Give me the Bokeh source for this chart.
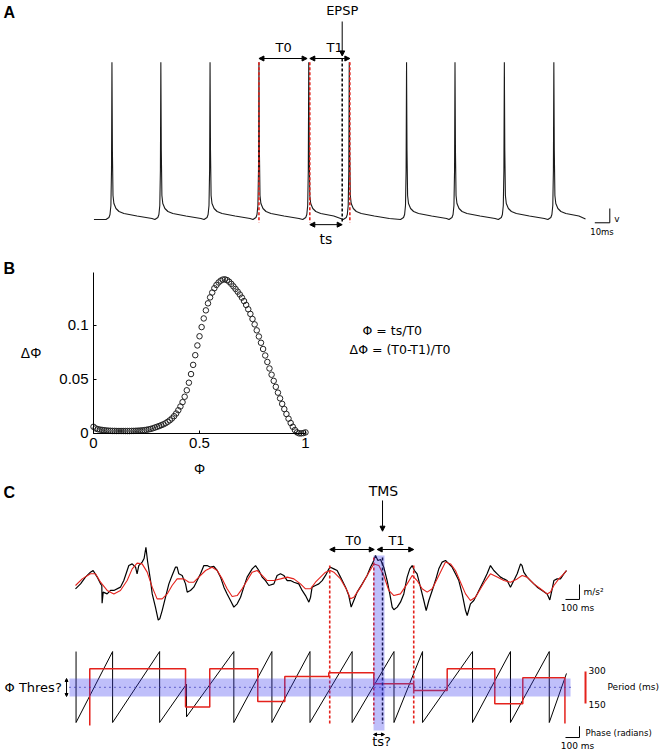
import numpy as np
from bokeh.plotting import figure
from bokeh.models import Range1d, Label, Arrow, NormalHead, FixedTicker, LinearAxis
from bokeh.embed import file_html
from bokeh.resources import INLINE

# ---------------- Panel A data (time in ms, voltage in mV) ----------------
spike_times_ms = [12.3, 44.9, 77.7, 110.3, 143.5, 170.5, 208.7, 241.0, 273.9, 306.9]
spike_tmpl_dt = [-4.0, -2.0, -1.3, -0.7, -0.3, 0.0, 0.3, 0.7, 1.3, 2.7, 4.7, 8.0, 16.7, 26.7]
spike_tmpl_v = [-70.0, -68.6, -66.5, -60.2, -35.7, 40.0, -21.7, -53.2, -58.8, -62.3, -64.4, -65.8, -67.6, -69.3]
trace_span_ms = [0.3, 328.0]
rest_mv = [-70.0, -69.6]
a_marker_ms = [110.3, 144.2, 170.9]     # red dashed spike markers
epsp_ms = 165.8

# ---------------- Panel B data ----------------
phi = np.round(np.arange(0, 101) / 100.0, 2)
dphi = [0.0062, 0.0047, 0.0040, 0.0036, 0.0033, 0.0030, 0.0028, 0.0026, 0.0025, 0.0024,
        0.0024, 0.0023, 0.0023, 0.0023, 0.0023, 0.0023, 0.0023, 0.0023, 0.0024, 0.0024,
        0.0025, 0.0026, 0.0027, 0.0029, 0.0031, 0.0034, 0.0038, 0.0042, 0.0048, 0.0055,
        0.0062, 0.0069, 0.0077, 0.0085, 0.0095, 0.0108, 0.0122, 0.0139, 0.0160, 0.0185,
        0.0215, 0.0250, 0.0290, 0.0340, 0.0400, 0.0470, 0.0550, 0.0635, 0.0725, 0.0815,
        0.0900, 0.0985, 0.1065, 0.1140, 0.1205, 0.1260, 0.1305, 0.1345, 0.1375, 0.1398,
        0.1415, 0.1425, 0.1427, 0.1420, 0.1405, 0.1385, 0.1362, 0.1338, 0.1313, 0.1287,
        0.1258, 0.1226, 0.1190, 0.1150, 0.1107, 0.1060, 0.1010, 0.0955, 0.0898, 0.0840,
        0.0782, 0.0722, 0.0662, 0.0602, 0.0544, 0.0487, 0.0432, 0.0378, 0.0325, 0.0274,
        0.0226, 0.0180, 0.0137, 0.0097, 0.0062, 0.0032, 0.0010, 0.0001, 0.0001, 0.0004,
        0.0010]

# ---------------- Panel C data (time in ms) ----------------
acc_t = [0, 36, 71, 107, 126, 155, 179, 188, 190, 198, 226, 250, 274, 321, 345, 369, 381, 405,
         429, 440, 452, 476, 490, 503, 515, 536, 548, 571, 591, 602, 619, 643, 667, 690, 714, 726,
         738, 762, 786, 798, 821, 845, 869, 893, 917, 940, 964, 988, 1012, 1036, 1060, 1083,
         1107, 1131, 1155, 1179, 1202, 1226, 1262, 1286, 1310, 1333, 1357, 1381, 1417, 1440,
         1464, 1488, 1512, 1536, 1560, 1595, 1619, 1643, 1667, 1679, 1690, 1714, 1738, 1762,
         1786, 1810, 1821, 1845, 1869, 1893, 1929, 1952, 1969, 1988, 2012, 2048, 2083, 2107,
         2126, 2143, 2160, 2179, 2202, 2226, 2245, 2262, 2274, 2298, 2321, 2345, 2369, 2388,
         2405, 2421, 2440, 2464, 2488, 2505, 2524, 2548, 2571, 2595, 2619, 2643, 2667, 2690,
         2714, 2738, 2762, 2786, 2798, 2821, 2845, 2869, 2893, 2917, 2940, 2964, 2988, 3012,
         3036, 3060, 3083, 3107, 3131, 3155, 3179, 3190, 3202, 3226, 3250, 3274, 3298, 3333,
         3369, 3388, 3405, 3417, 3440, 3464, 3488, 3507]
acc_raw = [-0.22, 0.11, 0.56, 0.89, 1.0, 0.56, 0.11, 0.0, -1.18, -0.44, -0.56, -0.33, -0.33, -0.11,
           0.33, 1.0, 1.33, 1.44, 1.22, 0.78, 1.33, 1.56, 1.8, 2.55, 1.6, 0.33, -0.56, -1.44,
           -2.3, -2.22, -1.67, -0.78, 0.11, 0.67, 1.22, 1.22, 0.78, 0.67, 0.11, -0.44, -0.33,
           -0.11, 0.33, 0.78, 1.33, 1.33, 1.22, 1.27, 1.0, 0.56, -0.11, -0.56, -1.0, -1.44,
           -1.22, -0.78, -0.11, 0.56, 1.11, 1.33, 1.0, 0.56, 0.33, 0.0, 0.11, 0.67, 0.78, 0.67,
           0.33, 0.33, 0.22, 0.11, -0.33, -0.67, -1.11, -0.78, -0.11, 0.0, 0.11, 0.33, 0.67,
           1.11, 1.22, 1.11, 1.0, 0.56, -0.11, -0.67, -1.44, -1.0, -0.44, 0.11, 0.67, 1.22, 1.56,
           2.0, 1.67, 1.73, 1.22, 0.33, -0.56, -1.44, -1.62, -1.44, -1.11, -0.56, 0.56, 1.11,
           1.33, 1.0, 0.78, -0.11, -1.0, -1.67, -1.0, -0.33, 0.33, 1.11, 1.56, 1.67, 1.44, 1.22,
           0.78, 0.33, -0.56, -1.67, -2.0, -1.22, -1.0, -0.56, -0.11, 0.33, 0.78, 1.33, 1.0,
           0.78, 0.56, 0.44, 0.33, -0.11, 0.33, 0.78, 1.44, 1.33, 0.89, 0.56, 0.33, 0.11, -0.11,
           -0.33, -0.56, -0.96, -0.22, 0.33, 0.44, 0.44, 0.78, 1.0]
smooth_t = [0, 48, 107, 143, 179, 226, 274, 321, 369, 405, 440, 476, 512, 548, 583, 619, 655, 690,
            726, 774, 810, 845, 881, 929, 976, 1012, 1048, 1083, 1119, 1155, 1190, 1226, 1262,
            1298, 1333, 1369, 1417, 1464, 1512, 1560, 1607, 1643, 1679, 1714, 1750, 1786, 1820,
            1845, 1893, 1940, 1964, 1988, 2036, 2083, 2131, 2167, 2202, 2238, 2274, 2321, 2369,
            2405, 2440, 2476, 2512, 2548, 2583, 2619, 2643, 2679, 2714, 2750, 2786, 2821, 2857,
            2893, 2929, 2964, 3012, 3060, 3107, 3155, 3190, 3226, 3274, 3321, 3369, 3393, 3417,
            3452, 3488, 3507]
smooth_acc = [0.0, 0.44, 0.78, 0.78, 0.22, -0.33, -0.56, -0.33, 0.33, 1.11, 1.49, 1.44, 0.89,
              -0.11, -0.89, -0.89, -0.56, 0.0, 0.44, 0.44, 0.22, 0.22, 0.56, 1.0, 1.22, 1.0, 0.44,
              -0.22, -0.73, -0.67, -0.22, 0.33, 0.89, 1.0, 0.67, 0.33, 0.33, 0.44, 0.56, 0.44,
              0.11, -0.22, -0.22, 0.22, 0.56, 0.89, 1.0, 0.89, 0.44, -0.33, -0.89, -0.78, -0.11,
              0.67, 1.44, 1.33, 0.67, -0.33, -0.67, -0.56, 0.11, 0.67, 0.33, -0.22, -0.44, -0.22,
              0.44, 1.11, 1.56, 1.44, 1.0, 0.22, -0.56, -1.0, -0.78, -0.22, 0.33, 0.78, 0.56,
              0.33, 0.22, 0.44, 0.67, 0.56, 0.11, -0.22, -0.56, -0.44, 0.0, 0.44, 0.78, 1.0]
phase_reset_t = [4, 265, 601, 793, 1131, 1403, 1675, 1976, 2275, 2479, 2836, 3107, 3384]
phase_before = [6.28, 6.28, 6.28, 3.4, 6.28, 6.28, 6.28, 6.28, 6.28, 6.28, 6.28, 6.28, 6.28]
phase_after = [0.0, 0.0, 0.0, 0.5, 0.0, 0.0, 0.0, 0.0, 0.0, 0.0, 0.0, 0.0, 0.0]
phase_end = [3507, 4.34]
period_edges_t = [102, 786, 959, 1302, 1495, 1809, 2131, 2416, 2655, 2995, 3195, 3496]
period_ms = [313, 133, 313, 159, 277, 294, 242, 211, 313, 149, 271]
period_ends = [47, 56]
c_marker_t = [1816, 2131, 2416]
tms_t = 2193
tms_window = [2129, 2207]
phase_thresh = 3.10
phase_band = [2.30, 3.894]
band_span_t = [-43, 3536]

RED = "#e4221c"
FONT = "DejaVu Sans"
ARIAL = "Liberation Sans"

# One canvas; each panel has its own scales (ranges) placed on it.
p = figure(width=660, height=752, x_range=Range1d(-62.0, 378.0), y_range=Range1d(-443.1, 83.3),
           x_axis_location=None, y_axis_location=None, output_backend="svg",
           toolbar_location=None, min_border=0, outline_line_color=None,
           background_fill_color="white", border_fill_color="white")
p.grid.visible = False
p.extra_x_ranges = {"bx": Range1d(-0.4387, 2.6745), "cx": Range1d(-535.7, 4178.6)}
p.extra_y_ranges = {"by": Range1d(-0.2954, 0.4009), "cy": Range1d(-11.133, 39.0),
                    "cph": Range1d(-2.655, 63.9), "cper": Range1d(-79.7, 3445.3)}

A = dict(x_range_name="default", y_range_name="default")
B = dict(x_range_name="bx", y_range_name="by")
C = dict(x_range_name="cx", y_range_name="cy")
CPH = dict(x_range_name="cx", y_range_name="cph")
CPER = dict(x_range_name="cx", y_range_name="cper")


def lab(x, y, text, rn, size="13px", font=FONT, align="center", baseline="middle",
        bold=False, color="black"):
    p.add_layout(Label(x=x, y=y, text=text, text_font=font, text_font_size=size,
                       text_align=align, text_baseline=baseline, text_color=color,
                       text_font_style="bold" if bold else "normal", **rn))


def arr(x0, y0, x1, y1, rn, both=True, size=6):
    def head():
        return NormalHead(size=size, fill_color="black", line_color="black", line_width=1)
    p.add_layout(Arrow(start=head() if both else None, end=head(), x_start=x0, y_start=y0,
                       x_end=x1, y_end=y1, line_width=1, line_color="black", **rn))


# ================= Panel A =================
tA = [trace_span_ms[0]]
vA = [rest_mv[0]]
for i, s in enumerate(spike_times_ms):
    nxt = spike_times_ms[i + 1] if i + 1 < len(spike_times_ms) else None
    for dt, v in zip(spike_tmpl_dt, spike_tmpl_v):
        t = s + dt
        if dt > 0 and nxt is not None and t > nxt - 4.5:
            continue
        if t > trace_span_ms[1]:
            continue
        tA.append(t)
        vA.append(v)
tA.append(trace_span_ms[1])
vA.append(rest_mv[1])
p.line(tA, vA, line_color="#1a1a1a", line_width=1.1)

p.segment(x0=a_marker_ms, y0=[40.0] * 3, x1=a_marker_ms, y1=[-72.1] * 3,
          line_color=RED, line_width=1.6, line_dash="3 2")
p.segment(x0=[epsp_ms], y0=[42.7], x1=[epsp_ms], y1=[-72.1],
          line_color="black", line_width=1.5, line_dash="3 2")

lab(-60.0, 75.0, "A", A, size="16px", font=ARIAL, align="left", bold=True)
lab(epsp_ms, 76.0, "EPSP", A, size="13px")
arr(epsp_ms, 68.6, epsp_ms, 44.5, A, both=False, size=5)
lab(126.7, 50.4, "T0", A, size="13px")
lab(160.7, 50.4, "T1", A, size="13px")
arr(a_marker_ms[0], 42.7, 142.4, 42.7, A, size=5)
arr(a_marker_ms[1], 42.7, a_marker_ms[2], 42.7, A, size=5)
arr(a_marker_ms[1], -73.6, epsp_ms, -73.6, A, size=5)
lab(154.9, -83.5, "ts", A, size="14px")
# scale bar: 10 ms, 10 mV
p.line([334.2, 344.2, 344.2], [-72.3, -72.3, -62.3], line_color="black", line_width=1)
lab(349.0, -69.5, "v", A, size="9px")
lab(339.0, -78.6, "10ms", A, size="8.5px")

# ================= Panel B =================
p.scatter(phi, dphi, marker="circle", size=5.5, fill_color=None, line_color="#222222",
          line_width=1, **B)
bx_axis = LinearAxis(fixed_location=0.0, bounds=(0.0, 1.0),
                     ticker=FixedTicker(ticks=[0.0, 0.5, 1.0]), axis_label="Φ", **B)
by_axis = LinearAxis(fixed_location=0.0, bounds=(0.0, 0.149),
                     ticker=FixedTicker(ticks=[0.0, 0.05, 0.1]), axis_label="ΔΦ", **B)
bx_axis.major_label_overrides = {0.0: "0", 0.5: "0.5", 1.0: "1"}
by_axis.major_label_overrides = {0.0: "0", 0.05: "0.05", 0.1: "0.1"}
for ax in (bx_axis, by_axis):
    ax.major_tick_in = 3
    ax.major_tick_out = 0
    ax.minor_tick_line_color = None
    ax.axis_line_color = "black"
    ax.major_tick_line_color = "black"
    ax.major_label_text_font = ARIAL
    ax.major_label_text_font_size = "15px"
    ax.major_label_text_color = "black"
    ax.axis_label_text_font = ARIAL
    ax.axis_label_text_font_size = "14px"
    ax.axis_label_text_font_style = "normal"
    ax.axis_label_text_color = "black"
by_axis.axis_label_orientation = "horizontal"
by_axis.axis_label_standoff = 15
bx_axis.axis_label_standoff = 9
p.add_layout(bx_axis, "below")
p.add_layout(by_axis, "left")
lab(-0.4245, 0.1528, "B", B, size="16px", font=ARIAL, align="left", bold=True)
lab(1.269, 0.0954, "Φ = ts/T0", B, size="12.5px", align="left")
lab(1.208, 0.0778, "ΔΦ = (T0-T1)/T0", B, size="12.5px", align="left")

# ================= Panel C =================
p.line(acc_t, acc_raw, line_color="black", line_width=1.2, **C)
p.line(smooth_t, smooth_acc, line_color=RED, line_width=1.1, **C)

ph_t, ph_v = [], []
for t, b, a in zip(phase_reset_t, phase_before, phase_after):
    ph_t += [t, t]
    ph_v += [b, a]
ph_t.append(phase_end[0])
ph_v.append(phase_end[1])
p.line(ph_t, ph_v, line_color="black", line_width=1, **CPH)

pr_t = [period_edges_t[0]]
pr_v = [period_ends[0]]
for i, v in enumerate(period_ms):
    pr_t += [period_edges_t[i], period_edges_t[i + 1]]
    pr_v += [v, v]
pr_t.append(period_edges_t[-1])
pr_v.append(period_ends[1])
p.line(pr_t, pr_v, line_color=RED, line_width=1.5, **CPER)

p.segment(x0=c_marker_t, y0=[1.33, 1.87, 1.33], x1=c_marker_t, y1=[-9.2] * 3,
          line_color=RED, line_width=1.6, line_dash="3 2", **C)
p.segment(x0=[tms_t], y0=[1.87], x1=[tms_t], y1=[-9.2], line_color="black",
          line_width=1.5, line_dash="3 2", **C)

p.line(band_span_t, [phase_thresh, phase_thresh], line_color="#1f1f8f", line_width=1.3,
       line_dash="1 4", **CPH)
p.quad(left=[band_span_t[0]], right=[band_span_t[1]], bottom=[phase_band[0]],
       top=[phase_band[1]], fill_color="#3c3cf0", fill_alpha=0.33, line_color=None, **CPH)
p.quad(left=[tms_window[0]], right=[tms_window[1]], bottom=[-9.67], top=[2.0],
       fill_color="#3c3cf0", fill_alpha=0.33, line_color=None, **C)

lab(-514.0, 6.2, "C", C, size="16px", font=ARIAL, align="left", bold=True)
lab(2200, 6.33, "TMS", C, size="14px")
arr(tms_t, 5.67, tms_t, 3.62, C, both=False, size=5)
lab(1986, 3.0, "T0", C, size="13px")
lab(2293, 3.0, "T1", C, size="13px")
arr(c_marker_t[0], 2.4, 2134, 2.4, C, size=5)
arr(2155, 2.4, c_marker_t[2], 2.4, C, size=5)
lab(-507.0, phase_thresh, "Φ Thres?", CPH, size="13px", align="left")
arr(-64, phase_band[0], -64, phase_band[1], CPH, size=3)
arr(tms_window[0], -9.93, tms_window[1], -9.93, C, size=3)
lab(2186, -10.4, "ts?", C, size="13px")

# acceleration scale bar (100 ms, 1 m/s^2)
p.line([3500, 3600, 3600], [-0.93, -0.93, 0.07], line_color="black", line_width=1, **C)
lab(3629, -0.45, "m/s²", C, size="9px", align="left")
lab(3586, -1.53, "100 ms", C, size="9px")
# phase scale bar (100 ms, 1 rad)
p.line([3500, 3600, 3600], [-1.33, -1.33, -0.33], line_color="black", line_width=1, **CPH)
lab(3643, -0.97, "Phase (radians)", CPH, size="8.5px", align="left")
lab(3586, -2.05, "100 ms", CPH, size="9px")
# period bar 150-300 ms
p.line([3643, 3643], [150, 300], line_color=RED, line_width=2, **CPER)
lab(3664, 304, "300", CPER, size="9px", align="left")
lab(3664, 146, "150", CPER, size="9px", align="left")
lab(3800, 225, "Period (ms)", CPER, size="9px", align="left")

open("out.html", "w").write(file_html(p, INLINE))
